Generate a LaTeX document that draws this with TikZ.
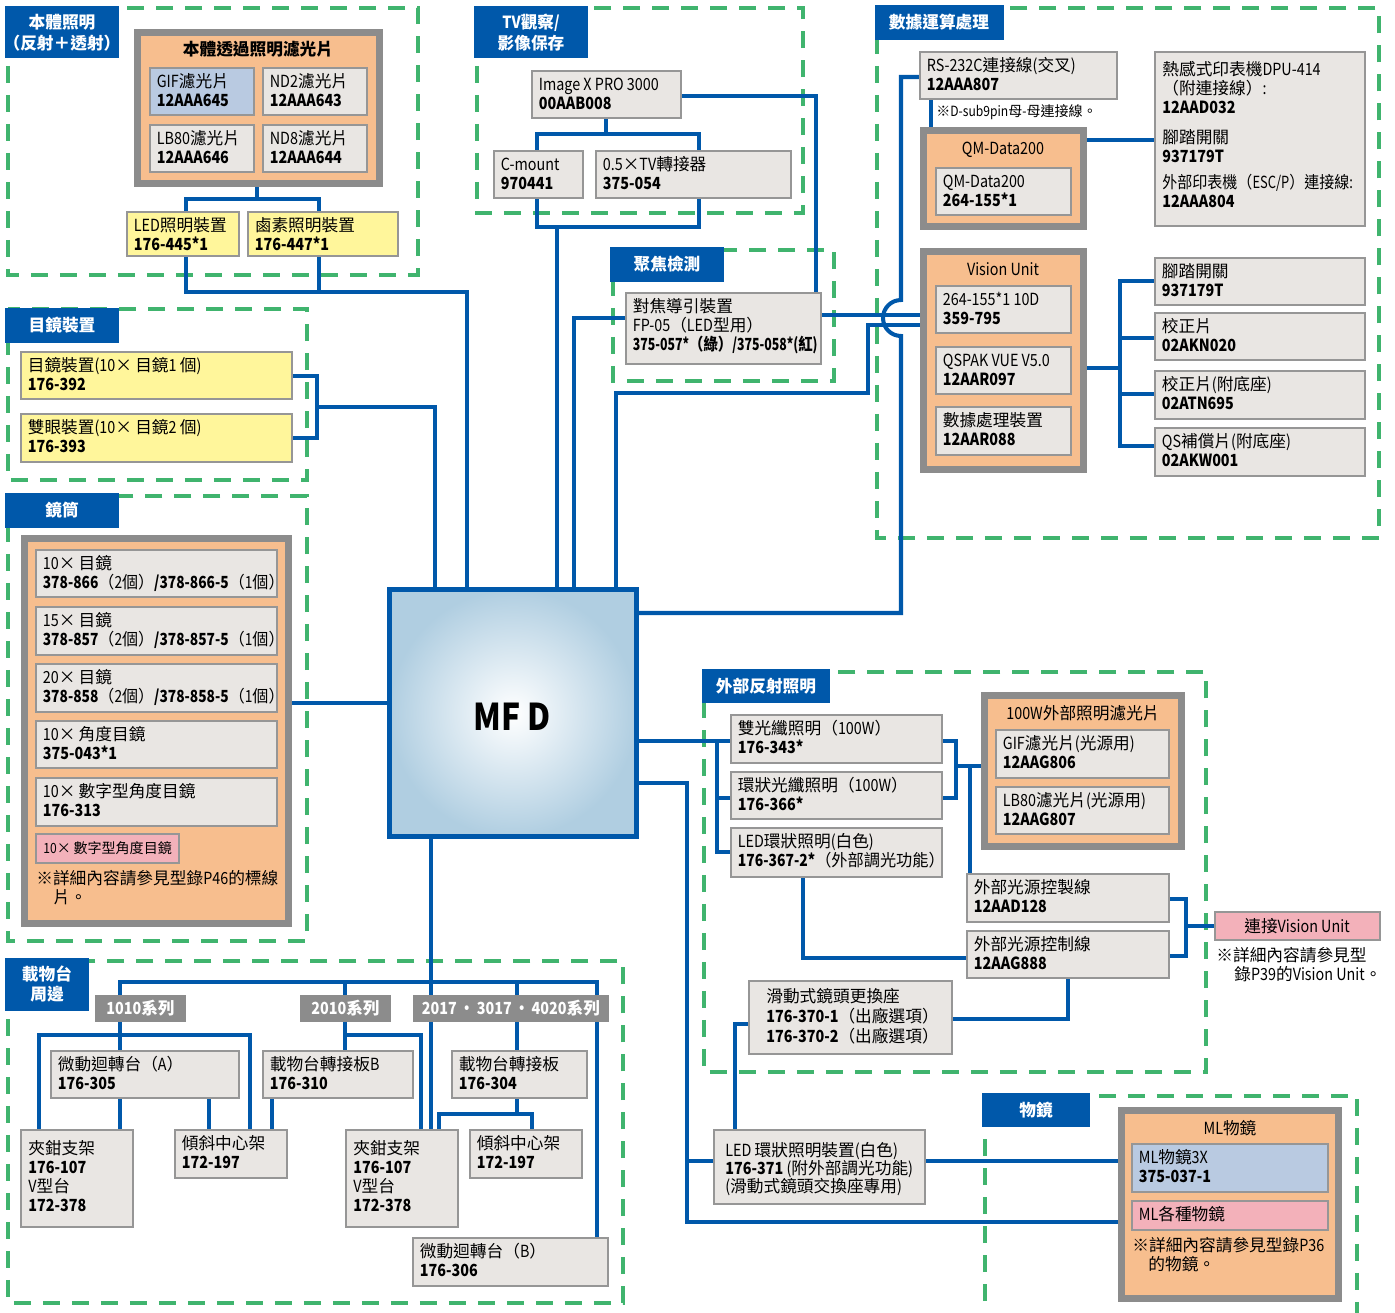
\documentclass[tikz,border=0pt]{standalone}
\usepackage{fontspec}
\usepackage{graphicx}
\setmainfont{Noto Sans CJK TC}[FakeStretch=0.86]
\newfontfamily\cjkfam{Noto Sans CJK TC}
\newfontfamily\latfam{Noto Sans CJK TC}[FakeStretch=0.86]
\usetikzlibrary{fit}
\pgfdeclarelayer{bg}
\pgfsetlayers{bg,main}
\chardef\mycjk=10
\makeatletter
\count@="2E80
\loop\ifnum\count@<"A000 \XeTeXcharclass\count@=\mycjk\relax \advance\count@\@ne\repeat
\count@="FF00
\loop\ifnum\count@<"FFF0 \XeTeXcharclass\count@=\mycjk\relax \advance\count@\@ne\repeat
\makeatother
\XeTeXcharclass"00D7=\mycjk
\XeTeXcharclass"203B=\mycjk
\XeTeXinterchartoks 0 \mycjk = {\cjkfam}
\XeTeXinterchartoks 4095 \mycjk = {\cjkfam}
\XeTeXinterchartoks \mycjk 0 = {\latfam}
\XeTeXinterchartoks \mycjk 4095 = {\latfam}
\XeTeXinterchartokenstate=1
\definecolor{lblue}{RGB}{0,88,170}
\definecolor{dgreen}{RGB}{64,180,110}
\definecolor{gfill}{RGB}{233,230,227}
\definecolor{gline}{RGB}{150,150,150}
\definecolor{yfill}{RGB}{255,246,155}
\definecolor{ofill}{RGB}{247,190,142}
\definecolor{oline}{RGB}{140,140,140}
\definecolor{bfill}{RGB}{185,202,225}
\definecolor{pfill}{RGB}{243,177,186}
\definecolor{mfdc}{RGB}{176,206,225}
\newcommand\fs{\fontsize{9.5}{10.8}\selectfont}
\newcommand\sm{\fontsize{8}{9}\selectfont}
\newcommand\gb[7][gbx]{%
  \node[#1, fit={(#3,#4) (#5,#6)}] (#2) {};
  \node[tx] (#2-t) at (#3+6.5,#4+3.1) {\rule{0pt}{9pt}#7};}
\newcommand\ct[4]{\node[ctx] (#1) at (#2,#3) {#4};}
\newcommand\lb[4]{\node[ctx,text=white,font=\fs\bfseries] (#1) at (#2,#3) {#4};}
\newcommand\sq[2]{\scalebox{#1}[1]{#2}}
\begin{document}
\begin{tikzpicture}[x=0.02cm,y=-0.02cm,font=\fs,
  gbx/.style={rectangle,draw=gline,fill=gfill,line width=1.1pt,inner sep=0pt,outer sep=0pt},
  ybx/.style={gbx,fill=yfill},
  bbx/.style={gbx,fill=bfill},
  pbx/.style={gbx,fill=pfill},
  obx/.style={rectangle,draw=oline,fill=ofill,line width=3.9pt,inner sep=0pt,outer sep=0pt},
  lbl/.style={rectangle,fill=lblue,inner sep=0pt,outer sep=0pt},
  ser/.style={rectangle,fill=oline,inner sep=0pt,outer sep=0pt},
  tx/.style={inner sep=0pt,anchor=north west,align=left},
  ctx/.style={inner sep=0pt,anchor=base},
  cn/.style={draw=lblue,line width=2.3pt},
  dsh/.style={draw=dgreen,line width=2.8pt,dash pattern=on 0.34cm off 0.24cm},
  mfdb/.style={rectangle,draw=lblue,line width=2.8pt,inner color=white,outer color=mfdc,inner sep=0pt,outer sep=0pt}]
\useasboundingbox (0,0) rectangle (1395,1312);

% ---------- 本體照明
\node[lbl, fit={(5,6) (119,58)}] (L1) {};
\lb{L1a}{62}{28}{本體照明}
\lb{L1b}{62}{49}{（反射＋透射）}
\node[obx, fit={(137.5,32.5) (379.5,183.5)}] (O1) {};
\ct{O1t}{258}{55}{\textbf{本體透過照明濾光片}}
\gb[bbx]{gif}{150}{68}{254}{115}{GIF濾光片\\\textbf{12AAA645}}
\gb{nd2}{263}{68}{367}{115}{ND2濾光片\\\textbf{12AAA643}}
\gb{lb80}{150}{125}{254}{172}{LB80濾光片\\\textbf{12AAA646}}
\gb{nd8}{263}{125}{367}{172}{ND8濾光片\\\textbf{12AAA644}}
\gb[ybx]{led}{127}{212}{239}{256}{LED照明裝置\\\textbf{176-445*1}}
\gb[ybx]{hal}{248}{212}{398}{256}{鹵素照明裝置\\\textbf{176-447*1}}

% ---------- 目鏡裝置
\node[lbl, fit={(5,308) (119,343)}] (L2) {};
\lb{L2a}{62}{331}{目鏡裝置}
\gb[ybx]{ey1}{21}{352}{292}{399}{目鏡裝置(10× 目鏡1 個)\\\textbf{176-392}}
\gb[ybx]{ey2}{21}{414}{292}{462}{雙眼裝置(10× 目鏡2 個)\\\textbf{176-393}}

% ---------- 鏡筒
\node[lbl, fit={(5,493) (119,528)}] (L3) {};
\lb{L3a}{62}{516}{鏡筒}
\node[obx, fit={(24.5,538.5) (288.5,923.5)}] (O2) {};
\gb{ob1}{36}{550}{277}{597}{10× 目鏡\\\sq{0.96}{\textbf{378-866}（2個）\textbf{/378-866-5}（1個）}}
\gb{ob2}{36}{607}{277}{655}{15× 目鏡\\\sq{0.96}{\textbf{378-857}（2個）\textbf{/378-857-5}（1個）}}
\gb{ob3}{36}{664}{277}{712}{20× 目鏡\\\sq{0.96}{\textbf{378-858}（2個）\textbf{/378-858-5}（1個）}}
\gb{ob4}{36}{721}{277}{768}{10× 角度目鏡\\\textbf{375-043*1}}
\gb{ob5}{36}{778}{277}{826}{10× 數字型角度目鏡\\\textbf{176-313}}
\node[pbx, fit={(36,834) (179,863)}] (ob6) {};
\node[tx, font=\sm] (ob6t) at (43,853-15.9) {\rule{0pt}{9pt}10× 數字型角度目鏡};
\node[tx] (obn) at (36,884-15.9) {\rule{0pt}{9pt}※詳細內容請參見型錄P46的標線\\\hspace*{0.34cm}片。};

% ---------- TV
\node[lbl, fit={(474,6) (588,58)}] (L4) {};
\lb{L4a}{531}{28}{TV觀察/}
\lb{L4b}{531}{49}{影像保存}
\gb{imgx}{532}{71}{681}{118}{Image X PRO 3000\\\textbf{00AAB008}}
\gb{cmt}{494}{151}{583}{198}{C-mount\\\textbf{970441}}
\gb{tva}{596}{151}{791}{198}{0.5×TV轉接器\\\textbf{375-054}}

% ---------- 聚焦檢測
\node[lbl, fit={(610,247) (724,282)}] (L5) {};
\lb{L5a}{667}{270}{聚焦檢測}
\gb{fp}{626}{293}{821}{364}{對焦導引裝置\\FP-05（LED型用）\\\sq{0.86}{\textbf{375-057*（綠）/375-058*(紅)}}}

% ---------- 數據運算處理
\node[lbl, fit={(875,5) (1004,40)}] (L6) {};
\lb{L6a}{939}{28}{數據運算處理}
\gb{rs}{920}{52}{1117}{99}{RS-232C連接線(交叉)\\\textbf{12AAA807}}
\node[ctx, anchor=base west, font=\sm] (rsn) at (936,116) {※D-sub9pin母-母連接線。};
\node[obx, fit={(923.5,130.5) (1083.5,226.5)}] (qm) {};
\ct{qmt}{1003}{154}{QM-Data200}
\gb{qmi}{936}{168}{1071}{215}{QM-Data200\\\textbf{264-155*1}}
\node[gbx, fit={(1155,52) (1365,226)}] (th) {};
\node[tx] (th1) at (1162,75-15.9) {\rule{0pt}{9pt}熱感式印表機DPU-414\\（附連接線）:\\\textbf{12AAD032}};
\node[tx] (th2) at (1162,143-15.9) {\rule{0pt}{9pt}腳踏開關\\\textbf{937179T}};
\node[tx] (th3) at (1162,188.5-15.9) {\rule{0pt}{9pt}\sq{0.9}{外部印表機（ESC/P）連接線:}\\\textbf{12AAA804}};
\node[obx, fit={(923.5,251.5) (1083.5,469.5)}] (vu) {};
\ct{vut}{1003}{275}{Vision Unit}
\gb{vu1}{936}{286}{1071}{333}{264-155*1 10D\\\textbf{359-795}}
\gb{vu2}{936}{347}{1071}{394}{QSPAK VUE V5.0\\\textbf{12AAR097}}
\gb{vu3}{936}{407}{1071}{455}{數據處理裝置\\\textbf{12AAR088}}
\gb{r1}{1155}{258}{1365}{305}{腳踏開關\\\textbf{937179T}}
\gb{r2}{1155}{313}{1365}{360}{校正片\\\textbf{02AKN020}}
\gb{r3}{1155}{371}{1365}{419}{校正片(附底座)\\\textbf{02ATN695}}
\gb{r4}{1155}{428}{1365}{476}{QS補償片(附底座)\\\textbf{02AKW001}}

% ---------- 外部反射照明
\node[lbl, fit={(702,669) (830,703)}] (L7) {};
\lb{L7a}{766}{692}{外部反射照明}
\gb{e1}{731}{715}{942}{763}{雙光纖照明（100W）\\\textbf{176-343*}}
\gb{e2}{731}{772}{942}{819}{環狀光纖照明（100W）\\\textbf{176-366*}}
\gb{e3}{731}{828}{942}{877}{LED環狀照明(白色)\\\sq{0.97}{\textbf{176-367-2*}（外部調光功能）}}
\node[obx, fit={(984.5,695.5) (1181.5,846.5)}] (o100) {};
\ct{o100t}{1083}{719}{100W外部照明濾光片}
\gb{f1}{996}{730}{1169}{778}{GIF濾光片(光源用)\\\textbf{12AAG806}}
\gb{f2}{996}{787}{1169}{834}{LB80濾光片(光源用)\\\textbf{12AAG807}}
\gb{c1}{967}{874}{1169}{922}{外部光源控製線\\\textbf{12AAD128}}
\gb{c2}{967}{931}{1169}{978}{外部光源控制線\\\textbf{12AAG888}}
\node[pbx, fit={(1215,912) (1380,940)}] (vuc) {};
\ct{vuct}{1297}{932}{連接Vision Unit}
\node[tx] (vun) at (1216,961-15.9) {\rule{0pt}{9pt}※詳細內容請參見型\\\hspace*{0.36cm}錄P39的Vision Unit。};
\node[gbx, fit={(749,981) (952,1054)}] (sl) {};
\node[tx, font=\fontsize{9.5}{11.4}\selectfont] (slt) at (766,1002-15.9) {\rule{0pt}{9pt}滑動式鏡頭更換座\\\textbf{176-370-1}（出廠選項）\\\textbf{176-370-2}（出廠選項）};
\node[gbx, fit={(714,1130) (925,1204)}] (led2) {};
\node[tx, font=\fontsize{9.5}{10.2}\selectfont] (led2t) at (725,1156-15.9) {\rule{0pt}{9pt}LED 環狀照明裝置(白色)\\\textbf{176-371} (附外部調光功能)\\(滑動式鏡頭交換座專用)};

% ---------- 物鏡
\node[lbl, fit={(982,1093) (1090,1127)}] (L8) {};
\lb{L8a}{1036}{1116}{物鏡}
\node[obx, fit={(1121.5,1110.5) (1338.5,1298.5)}] (ml) {};
\ct{mlt}{1230}{1134}{ML物鏡}
\gb[bbx]{ml3}{1132}{1144}{1328}{1192}{ML物鏡3X\\\textbf{375-037-1}}
\gb[pbx]{mlv}{1132}{1201}{1328}{1230}{ML各種物鏡}
\node[tx] (mln) at (1132,1251-15.9) {\rule{0pt}{9pt}※詳細內容請參見型錄P36\\\hspace*{0.32cm}的物鏡。};

% ---------- 載物台周邊
\node[lbl, fit={(5,958) (89,1011)}] (L9) {};
\lb{L9a}{47}{980}{載物台}
\lb{L9b}{47}{1000}{周邊}
\node[ser, fit={(95,995) (186,1022)}] (s1) {};
\node[ser, fit={(300,995) (391,1022)}] (s2) {};
\node[ser, fit={(413,995) (609,1022)}] (s3) {};
\lb{s1t}{140.5}{1014}{1010系列}
\lb{s2t}{345.5}{1014}{2010系列}
\lb{s3t}{511}{1014}{2017\,·\,3017\,·\,4020系列}
\gb{mA}{51}{1051}{239}{1098}{微動迴轉台（A）\\\textbf{176-305}}
\node[gbx, fit={(21,1130) (133,1227)}] (cl1) {};
\node[tx] (cl1t) at (28,1154-15.9) {\rule{0pt}{9pt}夾鉗支架\\\textbf{176-107}\\V型台\\\textbf{172-378}};
\gb{t1}{175}{1130}{287}{1178}{傾斜中心架\\\textbf{172-197}}
\gb{pB}{263}{1051}{413}{1098}{載物台轉接板B\\\textbf{176-310}}
\node[gbx, fit={(346,1130) (458,1227)}] (cl2) {};
\node[tx] (cl2t) at (353,1154-15.9) {\rule{0pt}{9pt}夾鉗支架\\\textbf{176-107}\\V型台\\\textbf{172-378}};
\gb{pp}{452}{1051}{587}{1098}{載物台轉接板\\\textbf{176-304}}
\gb{t2}{470}{1130}{582}{1178}{傾斜中心架\\\textbf{172-197}}
\gb{mB}{413}{1238}{608}{1286}{微動迴轉台（B）\\\textbf{176-306}}

% ---------- MFD
\node[mfdb, fit={(389.5,589.5) (636.5,836.5)}] (mfd) {};
\node[ctx, font=\fontsize{21}{24}\selectfont\bfseries] (mfdt) at (512,730) {MF D};

\begin{pgfonlayer}{bg}
\draw[dsh] (8,8) rectangle (418,275);
\draw[dsh] (8,309) rectangle (307,480);
\draw[dsh] (8,496) rectangle (307,941);
\draw[dsh] (477,8) rectangle (803,213);
\draw[dsh] (613,250) rectangle (834,381);
\draw[dsh] (877,8) rectangle (1379,538);
\draw[dsh] (704,672) rectangle (1206,1072);
\draw[dsh] (985,1330) -- (985,1096) -- (1357,1096) -- (1357,1330);
\draw[dsh] (8,961) rectangle (623,1303);
% lighting
\draw[cn] (O1.south -| 257,0) -- (257,199);
\draw[cn] (led.north -| 186,0) -- (186,199) -- (319,199) -- (hal.north -| 319,0);
\draw[cn] (led.south -| 186,0) -- (186,292) -- (467,292) -- (mfd.north -| 467,0);
\draw[cn] (hal.south -| 319,0) -- (319,292);
% eyepiece
\draw[cn] (ey1.east |- 0,376) -- (317,376) -- (317,438) -- (ey2.east |- 0,438);
\draw[cn] (317,407) -- (435,407) -- (mfd.north -| 435,0);
% tube
\draw[cn] (O2.east |- 0,703) -- (mfd.west |- 0,703);
% TV
\draw[cn] (imgx.south -| 606,0) -- (606,134);
\draw[cn] (cmt.north -| 537,0) -- (537,134) -- (699,134) -- (tva.north -| 699,0);
\draw[cn] (cmt.south -| 537,0) -- (537,227) -- (699,227) -- (tva.south -| 699,0);
\draw[cn] (557,227) -- (mfd.north -| 557,0);
\draw[cn] (imgx.east |- 0,96) -- (816,96) -- (fp.north -| 816,0);
% focus / vision
\draw[cn] (fp.west |- 0,318) -- (574,318) -- (mfd.north -| 574,0);
\draw[cn] (fp.east |- 0,315) -- (vu.west |- 0,315);
\draw[cn] (mfd.north -| 616,0) -- (616,393) -- (868,393) -- (868,325) -- (vu.west |- 0,325);
\draw[cn] (rs.west |- 0,77) -- (901,77) -- (901,300) arc[start angle=90,end angle=270,radius=0.36cm] -- (901,613) -- (mfd.east |- 0,613);
\draw[cn] (rs.south -| 931,0) -- (qm.north -| 931,0);
\draw[cn] (qm.east |- 0,140) -- (th.west |- 0,140);
\draw[cn] (vu.east |- 0,368) -- (1120,368);
\draw[cn] (r1.west |- 0,281) -- (1120,281) -- (1120,446) -- (r4.west |- 0,446);
\draw[cn] (1120,338) -- (r2.west |- 0,338);
\draw[cn] (1120,394) -- (r3.west |- 0,394);
% external lighting
\draw[cn] (mfd.east |- 0,741) -- (e1.west |- 0,741);
\draw[cn] (717,741) -- (717,852) -- (e3.west |- 0,852);
\draw[cn] (717,798) -- (e2.west |- 0,798);
\draw[cn] (e1.east |- 0,741) -- (956,741) -- (956,798) -- (e2.east |- 0,798);
\draw[cn] (956,766) -- (o100.west |- 0,766);
\draw[cn] (970,766) -- (c1.north -| 970,0);
\draw[cn] (e3.south -| 803,0) -- (803,958) -- (c2.west |- 0,958);
\draw[cn] (c1.east |- 0,899) -- (1186,899) -- (1186,956) -- (c2.east |- 0,956);
\draw[cn] (1186,926) -- (vuc.west |- 0,926);
\draw[cn] (c2.south -| 1068,0) -- (1068,1019) -- (sl.east |- 0,1019);
\draw[cn] (sl.west |- 0,1024) -- (735,1024) -- (led2.north -| 735,0);
\draw[cn] (mfd.east |- 0,783) -- (687,783) -- (687,1222) -- (ml.west |- 0,1222);
\draw[cn] (687,1161) -- (led2.west |- 0,1161);
\draw[cn] (led2.east |- 0,1161) -- (ml.west |- 0,1161);
% stage
\draw[cn] (mfd.south -| 431,0) -- (cl2.north -| 431,0);
\draw[cn] (s1.north -| 120,0) -- (120,982) -- (597,982) -- (mB.north -| 597,0);
\draw[cn] (s2.north -| 345,0) -- (345,982);
\draw[cn] (s3.north -| 517,0) -- (517,982);
\draw[cn] (s1.south -| 120,0) -- (mA.north -| 120,0);
\draw[cn] (cl1.north -| 39,0) -- (39,1035) -- (250,1035) -- (t1.north -| 250,0);
\draw[cn] (mA.south -| 120,0) -- (cl1.north -| 120,0);
\draw[cn] (mA.south -| 209,0) -- (t1.north -| 209,0);
\draw[cn] (s2.south -| 345,0) -- (pB.north -| 345,0);
\draw[cn] (345,1035) -- (421,1035) -- (cl2.north -| 421,0);
\draw[cn] (pB.south -| 272,0) -- (t1.north -| 272,0);
\draw[cn] (s3.south -| 517,0) -- (pp.north -| 517,0);
\draw[cn] (pp.south -| 517,0) -- (517,1114);
\draw[cn] (cl2.north -| 439,0) -- (439,1114) -- (532,1114) -- (t2.north -| 532,0);
\end{pgfonlayer}
\end{tikzpicture}
\end{document}
